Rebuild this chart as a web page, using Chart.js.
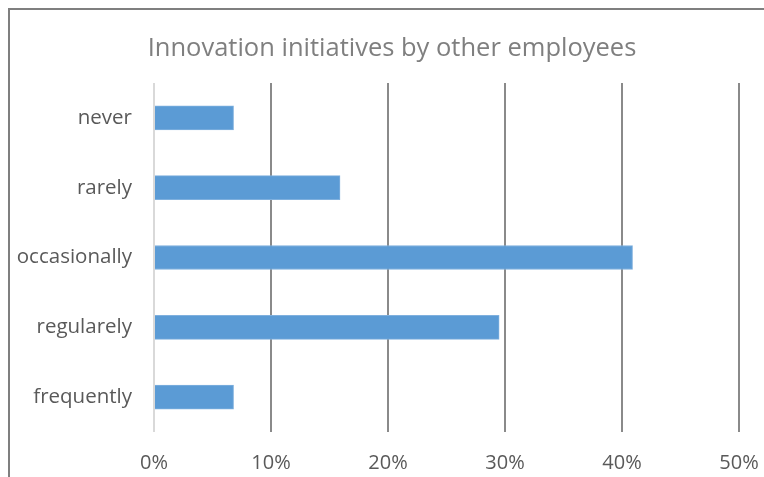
<!DOCTYPE html>
<html>
<head>
<meta charset="utf-8">
<script src="https://cdn.jsdelivr.net/npm/chart.js@4"></script>
<style>
  html, body { margin: 0; padding: 0; background: #fff; }
  #wrap { width: 764px; height: 477px; position: relative; }
</style>
</head>
<body>
<div id="wrap"><canvas id="myChart"></canvas></div>
<script>
// answers per frequency, percent of respondents
var categories = ['never', 'rarely', 'occasionally', 'regularely', 'frequently'];
var shares = [6.8, 15.9, 40.9, 29.5, 6.8];
var xTicks = [0, 10, 20, 30, 40, 50];

var frame = {
    id: 'frame',
    afterLayout: function (chart) {
        // the original title is centred on the (cropped) frame, not the canvas
        if (chart.titleBlock) {
            chart.titleBlock.left = 20;
            chart.titleBlock.right = 764;
        }
    },
    beforeDraw: function (chart) {
        var c = chart.ctx;
        c.save();
        c.strokeStyle = '#7f7f7f';
        c.lineWidth = 2;
        c.beginPath();
        c.moveTo(9, chart.height);
        c.lineTo(9, 9);
        c.lineTo(chart.width, 9);
        c.stroke();
        c.restore();
    }
};

var ctx = document.getElementById('myChart').getContext('2d');
var myChart = new Chart(ctx, {
    type: 'bar',
    data: {
        labels: categories,
        datasets: [{
            label: 'Share',
            data: shares,
            backgroundColor: '#5B9BD5',
            borderColor: '#7FB0DE',
            borderWidth: 1,
            barThickness: 24
        }]
    },
    options: {
        indexAxis: 'y',
        responsive: true,
        maintainAspectRatio: false,
        animation: false,
        layout: {
            padding: { left: 0, right: 25, top: 0, bottom: 0 }
        },
        plugins: {
            legend: { display: false },
            tooltip: { enabled: false },
            title: {
                display: true,
                text: 'Innovation initiatives by other employees',
                color: '#7f7f7f',
                font: { family: 'Open Sans', size: 25.5, weight: 'normal' },
                padding: { top: 33.7, bottom: 18.7 }
            }
        },
        scales: {
            x: {
                min: 0,
                max: 50,
                afterBuildTicks: function (scale) {
                    scale.ticks = xTicks.map(function (v) { return { value: v }; });
                },
                afterFit: function (scale) {
                    scale.height = 45;
                    scale.paddingLeft = 0;
                    scale.paddingRight = 0;
                },
                border: { display: false },
                grid: {
                    drawTicks: false,
                    lineWidth: 2,
                    color: function (c) { return c.index === 0 ? '#d9d9d9' : '#8a8a8a'; }
                },
                ticks: {
                    padding: 19,
                    color: '#595959',
                    font: { family: 'Open Sans', size: 20 },
                    callback: function (v) { return v + '%'; }
                }
            },
            y: {
                afterFit: function (scale) {
                    scale.width = 154;
                    scale.paddingTop = 0;
                    scale.paddingBottom = 0;
                },
                border: { display: false },
                grid: { display: false, drawTicks: false },
                ticks: {
                    padding: 22,
                    color: '#595959',
                    font: { family: 'Open Sans', size: 20.5 }
                }
            }
        }
    },
    plugins: [frame]
});
</script>
</body>
</html>
